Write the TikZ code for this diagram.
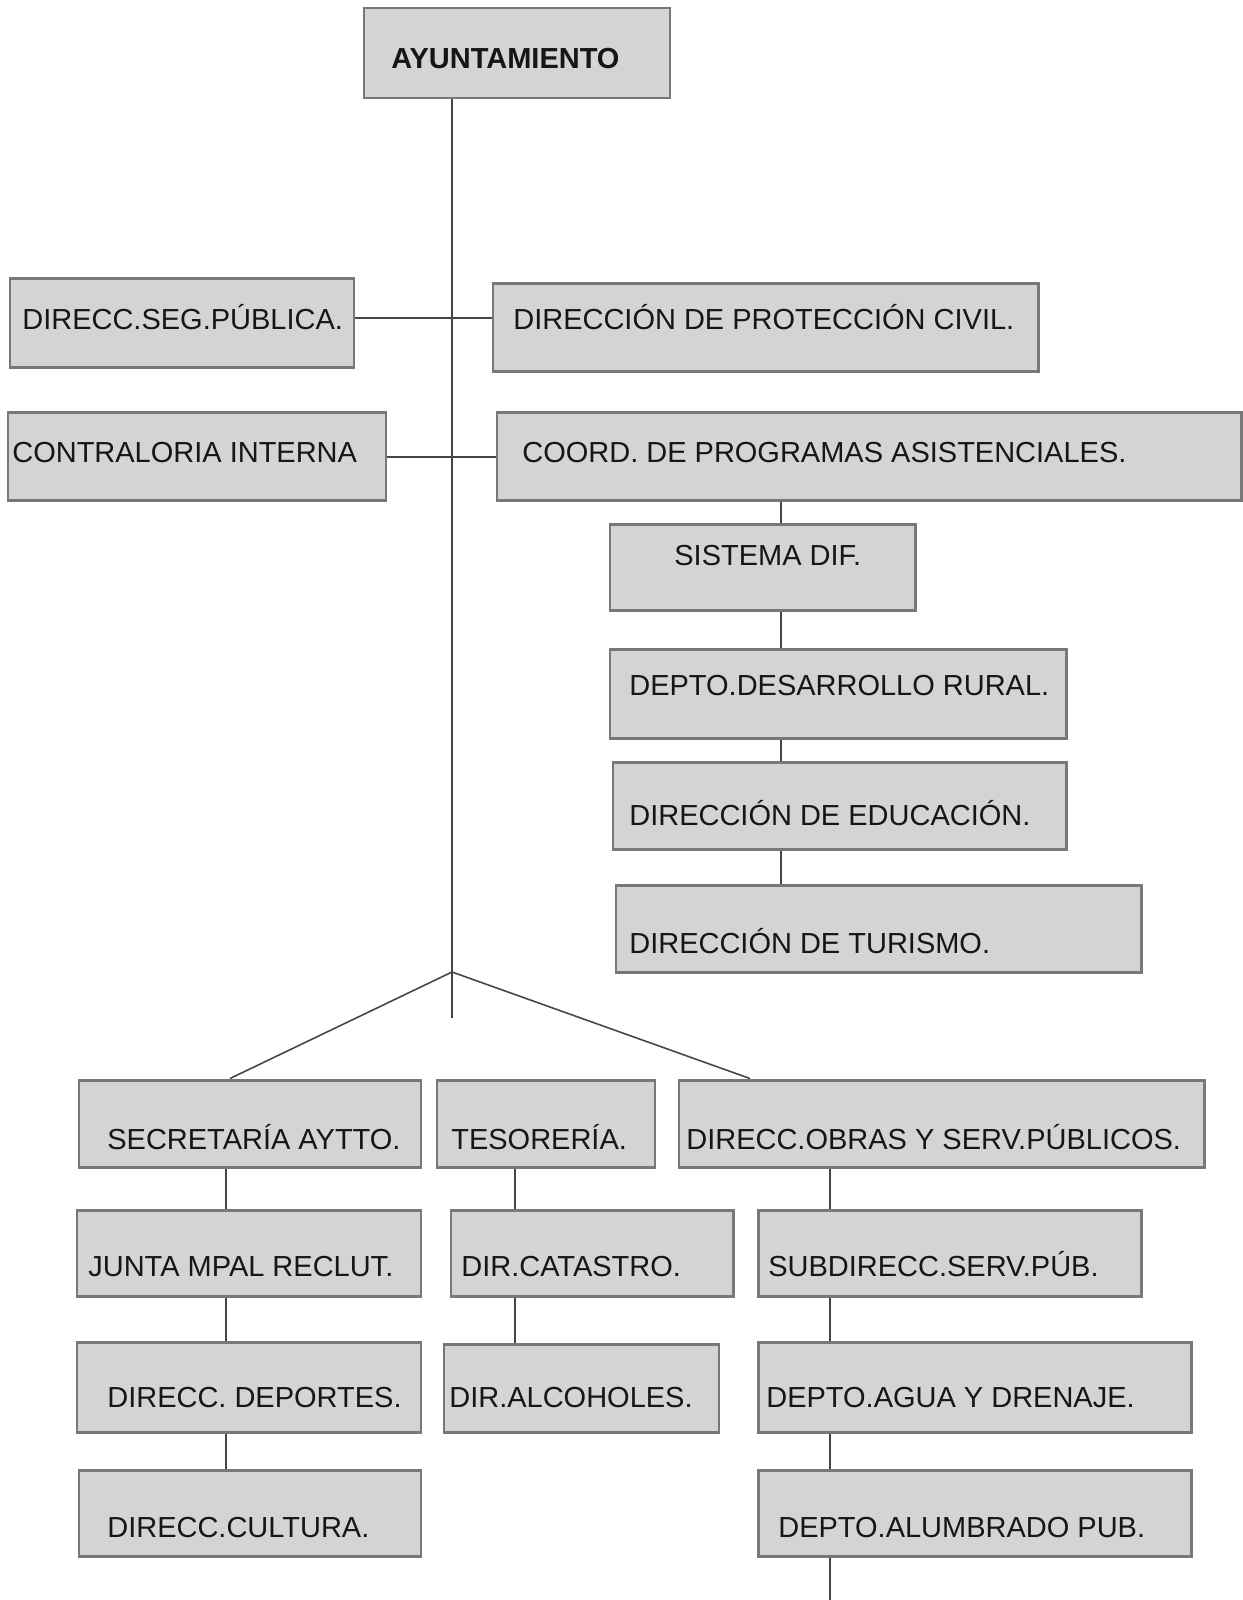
\documentclass[tikz,border=0pt]{standalone}
\usepackage{fontspec}
\setmainfont{Liberation Sans}
\usepackage{tikz}
\usetikzlibrary{fit,positioning}
\definecolor{boxfill}{RGB}{212,212,212}
\definecolor{boxedge}{RGB}{120,120,120}
\definecolor{linkgray}{RGB}{70,70,70}
\definecolor{inkgray}{RGB}{22,22,22}
\tikzset{
  unit/.style={rectangle, draw=boxedge, fill=boxfill, line width=1.7pt, inner sep=0pt},
  txt/.style={inner sep=0pt, anchor=base west, text=inkgray, font=\fontsize{16.5}{19}\selectfont},
  txtb/.style={txt, font=\bfseries\fontsize{16.5}{19}\selectfont},
  link/.style={draw=linkgray, line width=0.9pt}
}

\begin{document}
\begin{tikzpicture}[x=0.02cm, y=-0.02cm]
\useasboundingbox (0,0) rectangle (1243,1600);

% cabecera
\node[unit, fit={(364,8) (670,98)}] (ayto) {};
\node[txtb] (ayto-t) at (391,68) {AYUNTAMIENTO};

% dependencias directas
\node[unit, fit={(10,278) (354,367)}] (seg) {};
\node[txt] (seg-t) at (22,329) {DIRECC.SEG.PÚBLICA.};
\node[unit, fit={(493,283) (1038,371)}] (prot) {};
\node[txt] (prot-t) at (513,329) {DIRECCIÓN DE PROTECCIÓN CIVIL.};
\node[unit, fit={(8,412) (386,500)}] (contr) {};
\node[txt] (contr-t) at (12,462) {CONTRALORIA INTERNA};
\node[unit, fit={(497,412) (1241,500)}] (coord) {};
\node[txt] (coord-t) at (522,462) {COORD. DE PROGRAMAS ASISTENCIALES.};

% columna asistencial
\node[unit, fit={(610,524) (915,610)}] (dif) {};
\node[txt] (dif-t) at (674,565) {SISTEMA DIF.};
\node[unit, fit={(610,649) (1066,738)}] (rural) {};
\node[txt] (rural-t) at (629,695) {DEPTO.DESARROLLO RURAL.};
\node[unit, fit={(613,762) (1066,849)}] (educ) {};
\node[txt] (educ-t) at (629,825) {DIRECCIÓN DE EDUCACIÓN.};
\node[unit, fit={(616,885) (1141,972)}] (tur) {};
\node[txt] (tur-t) at (629,953) {DIRECCIÓN DE TURISMO.};

% ramas inferiores
\node[unit, fit={(79,1080) (421,1167)}] (secr) {};
\node[txt] (secr-t) at (107,1149) {SECRETARÍA AYTTO.};
\node[unit, fit={(437,1080) (655,1167)}] (teso) {};
\node[txt] (teso-t) at (451,1149) {TESORERÍA.};
\node[unit, fit={(679,1080) (1204,1167)}] (obras) {};
\node[txt] (obras-t) at (686,1149) {DIRECC.OBRAS Y SERV.PÚBLICOS.};

\node[unit, fit={(77,1210) (421,1296)}] (junta) {};
\node[txt] (junta-t) at (88,1276) {JUNTA MPAL RECLUT.};
\node[unit, fit={(451,1210) (733,1296)}] (catas) {};
\node[txt] (catas-t) at (461,1276) {DIR.CATASTRO.};
\node[unit, fit={(758,1210) (1141,1296)}] (subd) {};
\node[txt] (subd-t) at (768,1276) {SUBDIRECC.SERV.PÚB.};

\node[unit, fit={(77,1342) (421,1432)}] (depor) {};
\node[txt] (depor-t) at (107,1407) {DIRECC. DEPORTES.};
\node[unit, fit={(444,1344) (719,1432)}] (alcoh) {};
\node[txt] (alcoh-t) at (449,1407) {DIR.ALCOHOLES.};
\node[unit, fit={(758,1342) (1191,1432)}] (agua) {};
\node[txt] (agua-t) at (766,1407) {DEPTO.AGUA Y DRENAJE.};

\node[unit, fit={(79,1470) (421,1556)}] (cult) {};
\node[txt] (cult-t) at (107,1537) {DIRECC.CULTURA.};
\node[unit, fit={(758,1470) (1191,1556)}] (alum) {};
\node[txt] (alum-t) at (778,1537) {DEPTO.ALUMBRADO PUB.};

% puntos de paso
\coordinate (trunk) at (452,1018);
\coordinate (fork) at (452,972);
\coordinate (row1) at (0,318);
\coordinate (row2) at (0,457);
\coordinate (colU) at (781,0);
\coordinate (legL) at (230,0);
\coordinate (legR) at (750,0);
\coordinate (colL) at (226,0);
\coordinate (colM) at (515,0);
\coordinate (colR) at (830,0);
\coordinate (tail) at (830,1600);

% conectores
\draw[link] (trunk |- ayto.south) -- (trunk);
\draw[link] (row1 -| seg.east) -- (row1 -| prot.west);
\draw[link] (row2 -| contr.east) -- (row2 -| coord.west);
\draw[link] (colU |- coord.south) -- (colU |- dif.north);
\draw[link] (colU |- dif.south) -- (colU |- rural.north);
\draw[link] (colU |- rural.south) -- (colU |- educ.north);
\draw[link] (colU |- educ.south) -- (colU |- tur.north);
\draw[link] (fork) -- (legL |- secr.north);
\draw[link] (fork) -- (legR |- obras.north);
\draw[link] (colL |- secr.south) -- (colL |- junta.north);
\draw[link] (colL |- junta.south) -- (colL |- depor.north);
\draw[link] (colL |- depor.south) -- (colL |- cult.north);
\draw[link] (colM |- teso.south) -- (colM |- catas.north);
\draw[link] (colM |- catas.south) -- (colM |- alcoh.north);
\draw[link] (colR |- obras.south) -- (colR |- subd.north);
\draw[link] (colR |- subd.south) -- (colR |- agua.north);
\draw[link] (colR |- agua.south) -- (colR |- alum.north);
\draw[link] (colR |- alum.south) -- (tail);
\end{tikzpicture}
\end{document}
